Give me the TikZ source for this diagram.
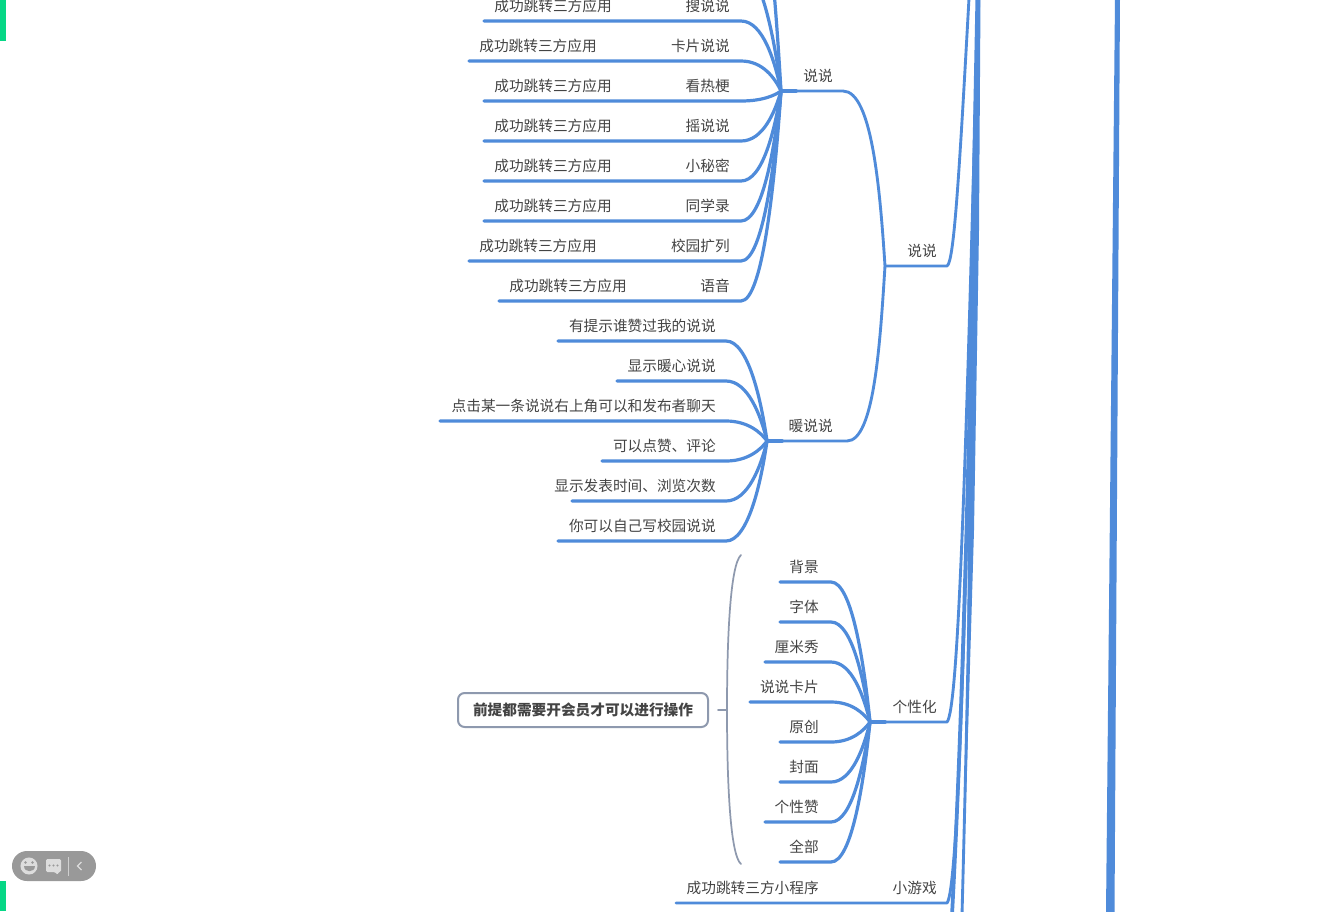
\documentclass[tikz,border=0pt]{standalone}
\usepackage{fontspec}
\setmainfont{Noto Sans CJK SC}
\definecolor{branch}{HTML}{4F8BDA}
\definecolor{grayline}{HTML}{8E99AE}
\definecolor{ink}{HTML}{444444}
\definecolor{mint}{HTML}{06D786}
\definecolor{pill}{HTML}{999999}
\definecolor{pillicon}{HTML}{DDDDDD}
\tikzset{
  lbl/.style={font=\fontsize{11pt}{13pt}\selectfont,text=ink,inner sep=0pt,anchor=base east},
  twig/.style={draw=branch,line width=2.4pt,line cap=round,line join=round},
  limb/.style={draw=branch,line width=2.15pt,line cap=round,line join=round},
  stub/.style={draw=branch,line width=2.9pt,line cap=round},
  trunk/.style={draw=branch,line width=2.8pt},
  bracket/.style={draw=grayline,line width=1.3pt,line cap=round},
  note/.style={draw=grayline,line width=1.5pt,rounded corners=5pt,inner sep=0pt,
    minimum width=187.5pt,minimum height=25.5pt,text=ink,
    font=\fontsize{11pt}{13pt}\selectfont\bfseries}
}
\begin{document}
\begin{tikzpicture}[x=0.75pt,y=-0.75pt]
\useasboundingbox (0,0) rectangle (1321,911);
\clip (0,0) rectangle (1321,911);
\fill[white] (0,0) rectangle (1321,911);
% hubs
\coordinate (hubA) at (781,91);
\coordinate (hubB) at (767,441);
\coordinate (hubC) at (870,722);
\coordinate (hubS) at (885,266);
% rows entering the 说说 hub from above the frame
\coordinate (p1b) at (752,-25);
\coordinate (p2b) at (772,-30);
\path[twig] (p1b) .. controls (764,-8) and (775,40) .. (hubA);
\path[twig] (p2b) .. controls (775,0) and (778,40) .. (hubA);
% 说说 leaves
\foreach \n/\y/\lx/\tx/\ly in {
 s0/21/484/搜说说/612,
 s1/61/469/卡片说说/597,
 s2/101/484/看热梗/612,
 s3/141/484/摇说说/612,
 s4/181/484/小秘密/612,
 s5/221/484/同学录/612,
 s6/261/469/校园扩列/597,
 s7/301/499/语音/627}{
  \node[lbl] (\n t) at (730,\y-10) {\tx};
  \node[lbl] (\n u) at (\ly,\y-10) {成功跳转三方应用};
  \coordinate (\n a) at (\lx,\y);
  \coordinate (\n b) at (741,\y);
  \path[twig] (\n a) -- (\n b) .. controls (763,\y) and (775,{91+0.42*(\y-91)}) .. (hubA);
}
% 暖说说 leaves
\foreach \n/\y/\lx/\tx in {
 w0/341/558/有提示谁赞过我的说说,
 w1/381/617/显示暖心说说,
 w2/421/440/点击某一条说说右上角可以和发布者聊天,
 w3/461/602/可以点赞、评论,
 w4/501/572/显示发表时间、浏览次数,
 w5/541/558/你可以自己写校园说说}{
  \node[lbl] (\n t) at (716,\y-10) {\tx};
  \coordinate (\n a) at (\lx,\y);
  \coordinate (\n b) at (726,\y);
  \path[twig] (\n a) -- (\n b) .. controls (748,\y) and (761,{441+0.42*(\y-441)}) .. (hubB);
}
% 个性化 leaves
\foreach \n/\y/\lx/\tx in {
 g0/582/780/背景,
 g1/622/780/字体,
 g2/662/765/厘米秀,
 g3/702/750/说说卡片,
 g4/742/780/原创,
 g5/782/780/封面,
 g6/822/765/个性赞,
 g7/862/780/全部}{
  \node[lbl] (\n t) at (819,\y-10) {\tx};
  \coordinate (\n a) at (\lx,\y);
  \coordinate (\n b) at (831,\y);
  \path[twig] (\n a) -- (\n b) .. controls (852,\y) and (864,{722+0.42*(\y-722)}) .. (hubC);
}
% level-two labels
\node[lbl] (lA) at (833,81) {说说};
\node[lbl] (lB) at (833,431) {暖说说};
\node[lbl] (lS) at (937,256) {说说};
\node[lbl] (lC) at (937,712) {个性化};
\node[lbl] (lG) at (937,893) {小游戏};
\node[lbl] (lH) at (819,893) {成功跳转三方小程序};
% level-two limbs
\coordinate (aE) at (843,91);
\coordinate (bE) at (847,441);
\coordinate (sE) at (947,266);
\coordinate (cE) at (947,722);
\coordinate (gE) at (947,903);
\coordinate (gL) at (676,903);
\path[stub] (hubA) -- ++(15,0);
\path[stub] (hubB) -- ++(15,0);
\path[stub] (hubC) -- ++(15,0);
\path[limb] (hubA) -- (aE) .. controls (872,91) and (880,190) .. (hubS);
\path[limb] (hubB) -- (bE) .. controls (874,441) and (880,345) .. (hubS);
% limbs up to the root, which lies above the frame
\coordinate (rootA) at (979,-40);
\coordinate (rootB) at (970,-20);
\coordinate (low1) at (952,915);
\coordinate (low2) at (962,915);
\path[limb] (hubS) -- (sE) .. controls (954,262) and (959,180) .. (rootB);
\path[limb] (hubC) -- (cE) .. controls (958,710) and (966,480) .. (rootA);
\path[limb] (gL) -- (gE) .. controls (958,890) and (967,620) .. (rootA);
\path[trunk] (low1) .. controls (962,730) and (970,450) .. (rootA);
\path[limb] (low2) .. controls (970,610) and (975,300) .. (rootA);
% merged bundle of limbs, widening towards the root
\fill[branch] (966,800) -- (968,530) -- (971,230) -- (975.5,-2) -- (980.5,-2) -- (979,230) -- (974,530) -- cycle;
% far right trunk
\fill[branch] (1115,-2) -- (1120,-2) -- (1114.5,913) -- (1106,913) -- cycle;
% note and its bracket
\node[note] (noteBox) at (583,710) {前提都需要开会员才可以进行操作};
\coordinate (brTop) at (741,555);
\coordinate (brMid) at (727,710);
\coordinate (brBot) at (741,864);
\coordinate (brStub) at (718,710);
\path[bracket] (brTop) .. controls (730,565) and (727,640) .. (brMid)
  .. controls (727,780) and (730,855) .. (brBot);
\path[bracket] (brStub) -- (brMid);
% green edge marks
\fill[mint] (0,0) rectangle (6,41);
\fill[mint] (0,881) rectangle (6,911);
% floating widget
\fill[pill,rounded corners=11.2pt] (12,851) rectangle (96,881);
\fill[pillicon] (29,866) circle[radius=6.4pt];
\fill[pill] (25.5,862.5) circle[radius=1pt];
\fill[pill] (32.5,862.5) circle[radius=1pt];
\fill[pill] (23.5,866) -- (34.5,866) .. controls (34.5,873) and (23.5,873) .. (23.5,866) -- cycle;
\fill[pillicon,rounded corners=1pt] (46,859) -- (61,859) -- (61,872) -- (58,872) -- (58,875) -- (55,872) -- (46,872) -- cycle;
\foreach \dx in {49.5,53.5,57.5}{\fill[pill] (\dx,865.5) circle[radius=0.8pt];}
\draw[pillicon!80!pill,line width=0.6pt] (68,857) -- (68,876);
\draw[pillicon,line width=0.9pt] (81.5,862) -- (77.5,866) -- (81.5,870);
\end{tikzpicture}
\end{document}
